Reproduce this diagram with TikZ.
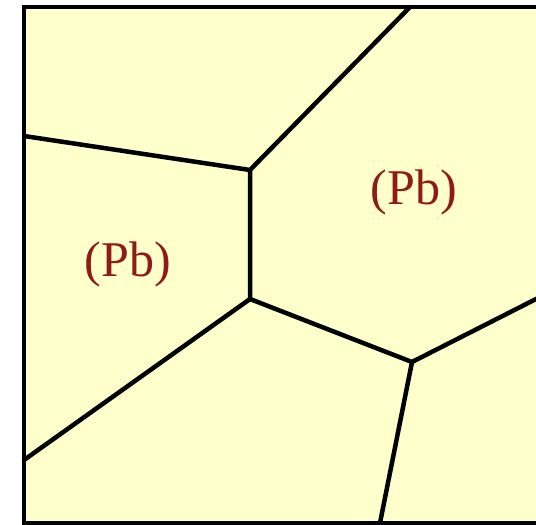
\documentclass[tikz,border=0pt]{standalone}
\usepackage{fontspec}
\setmainfont{Liberation Serif}
\definecolor{grainfill}{HTML}{FFFFCC}
\definecolor{labelred}{HTML}{8E1B17}
\begin{document}
\begin{tikzpicture}[x=1pt,y=-1pt,
  boundary/.style={line width=4.5pt,black,line cap=round,line join=round},
  grainlabel/.style={text=labelred,font=\fontsize{50}{58}\selectfont,inner sep=0pt}]
\useasboundingbox (0,0) rectangle (536,525);
\clip (0,0) rectangle (536,525);
\fill[grainfill] (24,7) rectangle (545,523);
\draw[line width=4.5pt,black] (24,7) rectangle (545,523);
% vertices
\coordinate (v1) at (250,170);
\coordinate (v2) at (250,299);
\coordinate (v3) at (412,362);
\coordinate (t) at (410,7);
\coordinate (l1) at (24,136);
\coordinate (l2) at (24,460);
\coordinate (r) at (540,297);
\coordinate (b) at (380,523);
\draw[boundary] (t) -- (v1) -- (v2) -- (v3) -- (r);
\draw[boundary] (l1) -- (v1);
\draw[boundary] (l2) -- (v2);
\draw[boundary] (v3) -- (b);
\node[grainlabel] (pb1) at (414,192) {(Pb)};
\node[grainlabel] (pb2) at (128,264) {(Pb)};
\end{tikzpicture}
\end{document}
